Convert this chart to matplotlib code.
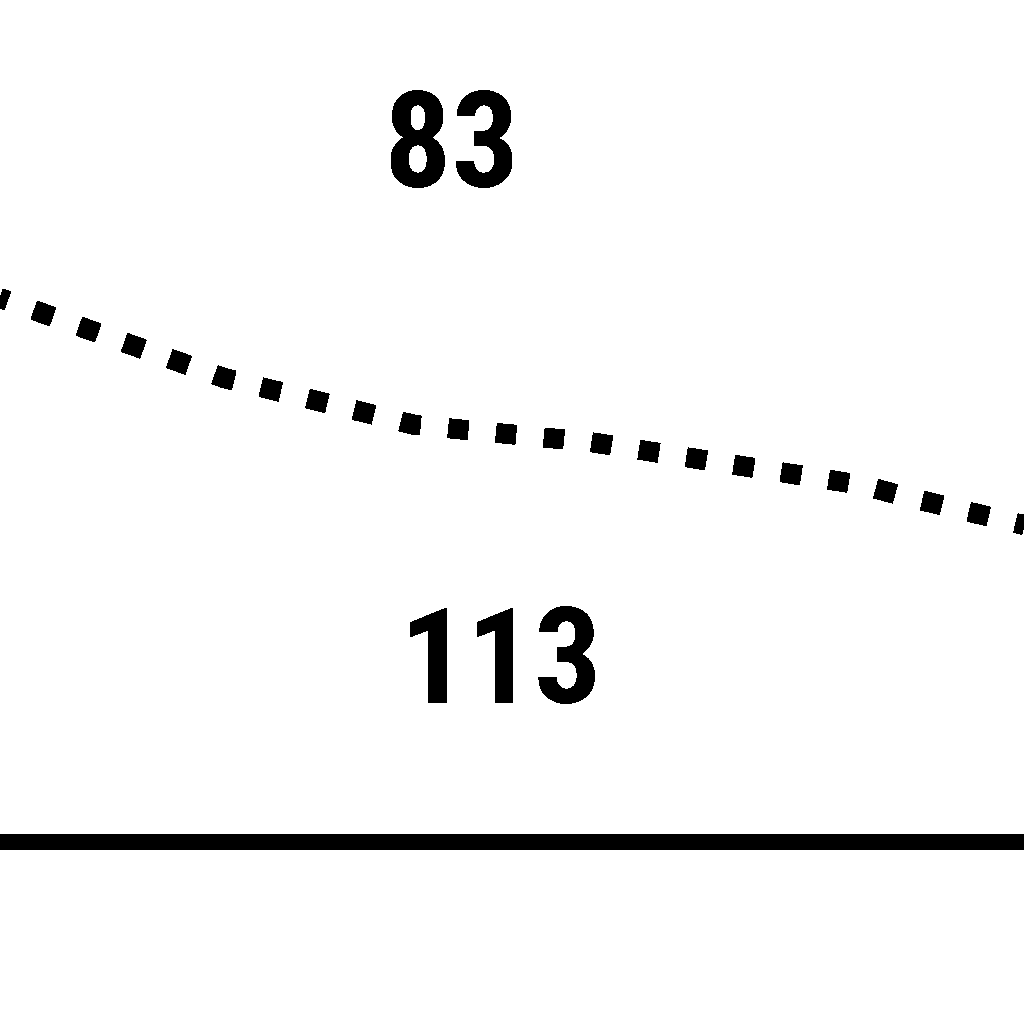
import matplotlib
matplotlib.use("Agg")
import matplotlib.pyplot as plt
from matplotlib import font_manager

line_x = [0, 224, 415, 590, 862, 903, 1024]
line_y = [726, 646, 599, 582, 539, 528, 499]
labels = ["83", "113"]
label_x = [452, 501]
label_y = [874, 357]
base_y = 182

plt.rcParams['text.antialiased'] = False


def pick_font():
    for name in ["Liberation Sans Narrow", "Roboto Condensed", "DejaVu Sans Condensed"]:
        try:
            font_manager.findfont(name, fallback_to_default=False)
            return name
        except Exception:
            pass
    return "DejaVu Sans"


family = pick_font()

fig = plt.figure(figsize=(10.24, 10.24), dpi=100)
ax = fig.add_axes([0, 0, 1, 1])
ax.set_xlim(0, 1024)
ax.set_ylim(0, 1024)
ax.axis('off')

# gepunktete Linie
ln, = ax.plot(line_x, line_y, color='black', linewidth=14,
              linestyle=(0.6, (1.0, 1.45)),
              solid_capstyle='butt', dash_capstyle='butt', antialiased=False)

# dicke Grundlinie
ax.axhline(base_y, color='black', linewidth=11.5, antialiased=False)

for t, x, y in zip(labels, label_x, label_y):
    ax.text(x, y, t, ha='center', va='center', fontsize=96,
            family=family, fontweight='bold', color='black')

fig.savefig("out.png", dpi=100, facecolor='white')
